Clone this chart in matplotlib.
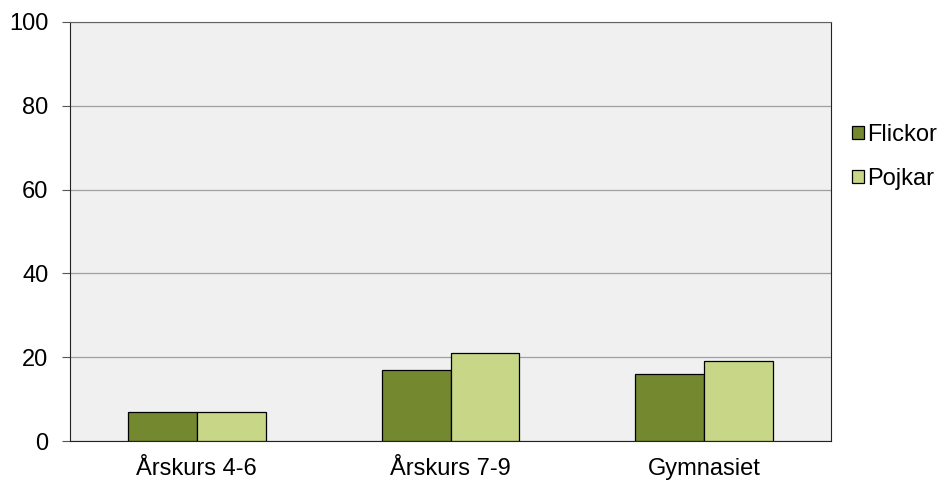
import matplotlib.pyplot as plt
import numpy as np

plt.rcParams['font.family'] = ['Liberation Sans', 'DejaVu Sans']

categories = ["Årskurs 4-6", "Årskurs 7-9", "Gymnasiet"]
flickor = [7, 17, 16]
pojkar = [7, 21, 19]
series_names = ["Flickor", "Pojkar"]

fig = plt.figure(figsize=(9.39, 4.8), dpi=100)
ax = fig.add_axes([70/939, 39/480, 761/939, 419/480])
ax.set_facecolor('#f0f0f0')

x = np.arange(len(categories))
w = 0.272
ax.bar(x - w/2, flickor, w, color='#74892f', edgecolor='black', linewidth=0.9, label=series_names[0], zorder=3)
ax.bar(x + w/2, pojkar, w, color='#c8d688', edgecolor='black', linewidth=0.9, label=series_names[1], zorder=3)

ax.set_xlim(-0.5, 2.5)
ax.set_ylim(0, 100)
ax.set_yticks(range(0, 101, 20))
ax.yaxis.grid(True, color='#a0a0a0', linewidth=0.9, zorder=0)
ax.set_xticks(x)
ax.set_xticklabels(categories)
ax.tick_params(axis='x', length=0, labelsize=17, pad=12)
ax.tick_params(axis='y', length=5.5, labelsize=17, pad=10, color='#555555')

for s in ['left', 'bottom']:
    ax.spines[s].set_color('#222222')
ax.spines['right'].set_color('#222222')
ax.spines['top'].set_color('#606060')

leg = ax.legend(loc='upper left', bbox_to_anchor=(1.015, 0.78), frameon=False,
                fontsize=17, handlelength=0.5, handleheight=0.5, handletextpad=0.15,
                labelspacing=0.95, borderaxespad=0)

fig.savefig('out.png', dpi=100)
